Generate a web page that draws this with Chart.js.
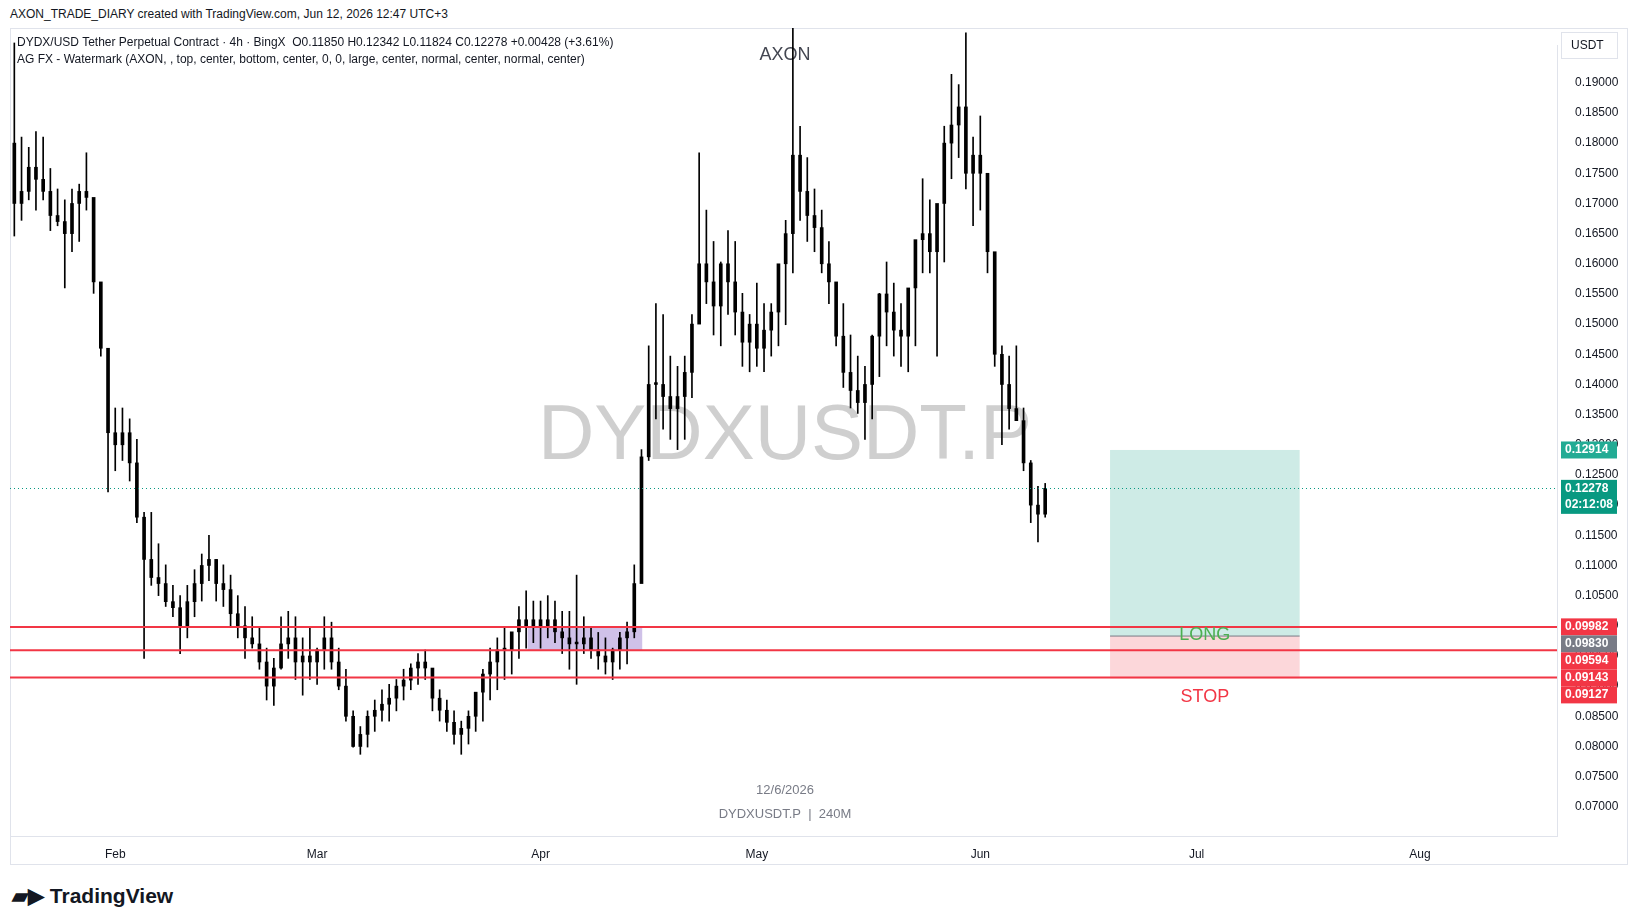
<!DOCTYPE html>
<html lang="en">
<head>
<meta charset="UTF-8" />
<title>DYDXUSDT.P</title>
<style>
  body { margin: 0; width: 1634px; height: 923px; background: #fff; font-family: "Liberation Sans", Arial, sans-serif; position: relative; overflow: hidden; }
  .top-note { position: absolute; left: 10px; top: 7px; font-size: 12px; color: #131722; }
  .frame { position: absolute; left: 10px; top: 28px; width: 1618px; height: 837px; border: 1px solid #e0e3eb; box-sizing: border-box; }
  .legend { position: absolute; left: 17px; top: 34px; font-size: 12px; color: #131722; line-height: 17px; }
  .logo { position: absolute; left: 12px; top: 884px; font: bold 21px "Liberation Sans", Arial, sans-serif; color: #131722; }
  canvas { position: absolute; left: 10px; top: 28px; }
</style>
</head>
<body>
<div class="top-note">AXON_TRADE_DIARY created with TradingView.com, Jun 12, 2026 12:47 UTC+3</div>
<div class="frame"></div>
<canvas id="chart" width="1618" height="837"></canvas>
<div class="legend">DYDX/USD Tether Perpetual Contract · 4h · BingX &nbsp;O0.11850 H0.12342 L0.11824 C0.12278 +0.00428 (+3.61%)<br>AG FX - Watermark (AXON, , top, center, bottom, center, 0, 0, large, center, normal, center, normal, center)</div>
<div class="logo">▰▶ TradingView</div>
<script src="https://cdn.jsdelivr.net/npm/chart.js@4.4.0/dist/chart.umd.min.js"></script>
<script>
// day offsets from Jan 18 2026
const highs = [0.1966,0.1810,0.1793,0.1819,0.1810,0.1758,0.1724,0.1706,0.1724,0.1732,0.1784,0.1689,0.1551,0.1447,0.1361,0.1361,0.1343,0.1309,0.1188,0.1188,
  0.1136,0.1101,0.1067,0.1050,0.1067,0.1093,0.1119,0.1150,0.1110,0.1101,0.1084,0.1050,0.1032,0.1015,0.0998,0.0963,0.0946,0.1015,0.1024,0.1015,
  0.0980,0.0998,0.0963,0.1015,0.1006,0.0963,0.0928,0.0859,0.0833,0.0859,0.0877,0.0894,0.0903,0.0911,0.0928,0.0937,0.0954,0.0960,0.0920,0.0894,
  0.0877,0.0859,0.0842,0.0859,0.0877,0.0928,0.0963,0.0980,0.0998,0.0980,0.1032,0.1058,0.1041,0.1041,0.1050,0.1041,0.1024,0.1024,0.1084,0.1015,
  0.0998,0.0989,0.0980,0.0963,0.0989,0.1006,0.1101,0.1292,0.1464,0.1534,0.1516,0.1447,0.1430,0.1447,0.1516,0.1784,0.1689,0.1637,0.1603,0.1655,
  0.1637,0.1551,0.1516,0.1568,0.1534,0.1534,0.1585,0.1672,0.1992,0.1828,0.1776,0.1724,0.1689,0.1637,0.1568,0.1534,0.1482,0.1447,0.1430,0.1482,
  0.1551,0.1603,0.1568,0.1534,0.1551,0.1620,0.1741,0.1706,0.1689,0.1828,0.1914,0.1897,0.1983,0.1810,0.1845,0.1724,0.1603,0.1464,0.1447,0.1464,
  0.1361,0.1274,0.1231,0.1236];
const lows = [0.1646,0.1672,0.1706,0.1689,0.1706,0.1655,0.1663,0.1560,0.1620,0.1637,0.1689,0.1551,0.1447,0.1222,0.1257,0.1274,0.1240,0.1171,0.0946,0.1067,
  0.1050,0.1032,0.1015,0.0954,0.0980,0.1015,0.1041,0.1075,0.1041,0.1032,0.0998,0.0980,0.0946,0.0963,0.0928,0.0877,0.0868,0.0928,0.0946,0.0911,
  0.0885,0.0911,0.0903,0.0928,0.0928,0.0894,0.0842,0.0799,0.0787,0.0799,0.0825,0.0842,0.0842,0.0859,0.0877,0.0894,0.0903,0.0911,0.0859,0.0842,
  0.0825,0.0804,0.0787,0.0804,0.0825,0.0842,0.0877,0.0894,0.0911,0.0920,0.0946,0.0963,0.0972,0.0963,0.0980,0.0972,0.0954,0.0928,0.0903,0.0954,
  0.0946,0.0928,0.0920,0.0911,0.0928,0.0937,0.0980,0.1084,0.1274,0.1343,0.1326,0.1309,0.1292,0.1309,0.1378,0.1516,0.1534,0.1482,0.1464,0.1516,
  0.1482,0.1430,0.1421,0.1430,0.1421,0.1447,0.1464,0.1499,0.1585,0.1672,0.1637,0.1620,0.1585,0.1534,0.1464,0.1395,0.1361,0.1352,0.1309,0.1343,
  0.1413,0.1464,0.1447,0.1430,0.1421,0.1464,0.1585,0.1585,0.1447,0.1603,0.1741,0.1776,0.1724,0.1663,0.1689,0.1585,0.1430,0.1300,0.1326,0.1343,
  0.1257,0.1171,0.1139,0.1180];
const closes = [0.170,0.172,0.176,0.174,0.172,0.168,0.167,0.165,0.170,0.172,0.171,0.157,0.146,0.132,0.130,0.132,0.127,0.118,0.111,0.108,
  0.107,0.104,0.103,0.100,0.104,0.107,0.110,0.111,0.107,0.106,0.102,0.100,0.098,0.097,0.094,0.090,0.093,0.097,0.098,0.094,
  0.095,0.094,0.096,0.098,0.094,0.090,0.085,0.080,0.082,0.085,0.086,0.087,0.088,0.090,0.091,0.093,0.094,0.093,0.088,0.086,
  0.084,0.082,0.083,0.085,0.089,0.092,0.094,0.096,0.096,0.099,0.101,0.100,0.101,0.100,0.101,0.099,0.098,0.097,0.097,0.098,
  0.096,0.095,0.094,0.096,0.098,0.099,0.107,0.128,0.140,0.140,0.138,0.136,0.138,0.142,0.150,0.160,0.157,0.153,0.160,0.157,
  0.152,0.147,0.150,0.146,0.149,0.152,0.160,0.165,0.178,0.172,0.168,0.166,0.160,0.157,0.148,0.142,0.139,0.137,0.140,0.148,
  0.155,0.152,0.149,0.148,0.156,0.164,0.165,0.162,0.170,0.180,0.183,0.186,0.175,0.178,0.175,0.162,0.145,0.140,0.136,0.134,
  0.127,0.120,0.1185,0.12278];
const firstOpen = 0.180;
const monthTicks = [14, 42, 73, 103, 134, 164, 195];
const monthLabels = ["Feb", "Mar", "Apr", "May", "Jun", "Jul", "Aug"];
const supportLevels = [0.09982, 0.09594, 0.09143];
const lastPrice = 0.12278;
const target = 0.12914, entry = 0.09830, stop = 0.09127;
const positionDays = [152, 178.3];
const zoneDays = [71.2, 87.1];
// stacked tags at the bottom share one column, slot = position in the stack
const axisTags = [
  { v: 0.12914, text: "0.12914", bg: "#22ab94" },
  { v: 0.12278, text: "0.12278", bg: "#089981", sub: "02:12:08" },
  { v: 0.09982, text: "0.09982", bg: "#f23645", slot: 0 },
  { v: 0.09830, text: "0.09830", bg: "#787b86", slot: 1 },
  { v: 0.09594, text: "0.09594", bg: "#f23645", slot: 2 },
  { v: 0.09143, text: "0.09143", bg: "#f23645", slot: 3 },
  { v: 0.09127, text: "0.09127", bg: "#f23645", slot: 4 }
];

const wicks = highs.map((h, i) => ({ x: i, y: [lows[i], h] }));
const bodies = closes.map((c, i) => {
  const o = i === 0 ? firstOpen : closes[i - 1];
  return { x: i, y: o === c ? [o, c + 0.0003] : [o, c] };
});

const overlay = {
  id: "overlay",
  beforeDatasetsDraw(chart) {
    const { ctx, chartArea: a, scales: { x, y } } = chart;
    ctx.save();
    ctx.font = "78px 'Liberation Sans', Arial, sans-serif";
    ctx.textAlign = "center"; ctx.textBaseline = "middle";
    ctx.fillStyle = "rgba(160,160,160,0.5)";
    ctx.fillText("DYDXUSDT.P", 775, 409);
    ctx.fillStyle = "#787b86";
    ctx.font = "13px 'Liberation Sans', Arial, sans-serif";
    ctx.fillText("12/6/2026", 775, 762);
    ctx.fillText("DYDXUSDT.P  |  240M", 775, 786);
    ctx.fillStyle = "#434651";
    ctx.font = "18px 'Liberation Sans', Arial, sans-serif";
    ctx.fillText("AXON", 775, 27);
    // purple zone
    ctx.fillStyle = "rgba(149,117,205,0.45)";
    ctx.fillRect(x.getPixelForValue(zoneDays[0]), y.getPixelForValue(supportLevels[0]),
      x.getPixelForValue(zoneDays[1]) - x.getPixelForValue(zoneDays[0]), y.getPixelForValue(supportLevels[1]) - y.getPixelForValue(supportLevels[0]));
    // position box
    const px0 = x.getPixelForValue(positionDays[0]), px1 = x.getPixelForValue(positionDays[1]);
    ctx.fillStyle = "rgba(8,153,129,0.2)";
    ctx.fillRect(px0, y.getPixelForValue(target), px1 - px0, y.getPixelForValue(entry) - y.getPixelForValue(target));
    ctx.fillStyle = "rgba(242,54,69,0.2)";
    ctx.fillRect(px0, y.getPixelForValue(entry), px1 - px0, y.getPixelForValue(stop) - y.getPixelForValue(entry));
    ctx.strokeStyle = "#787b86"; ctx.lineWidth = 1;
    ctx.beginPath(); ctx.moveTo(px0, y.getPixelForValue(entry)); ctx.lineTo(px1, y.getPixelForValue(entry)); ctx.stroke();
    ctx.restore();
  },
  afterDatasetsDraw(chart) {
    const { ctx, chartArea: a, scales: { x, y } } = chart;
    ctx.save();
    // last price dotted line
    ctx.strokeStyle = "#089981"; ctx.setLineDash([1, 3]); ctx.lineWidth = 1;
    const ly = Math.round(y.getPixelForValue(lastPrice)) + 0.5;
    ctx.beginPath(); ctx.moveTo(a.left, ly); ctx.lineTo(a.right, ly); ctx.stroke();
    ctx.setLineDash([]);
    ctx.strokeStyle = "#f23645"; ctx.lineWidth = 2;
    supportLevels.forEach(v => {
      const yy = y.getPixelForValue(v);
      ctx.beginPath(); ctx.moveTo(a.left, yy); ctx.lineTo(a.right, yy); ctx.stroke();
    });
    const cx = (x.getPixelForValue(positionDays[0]) + x.getPixelForValue(positionDays[1])) / 2;
    ctx.font = "18px 'Liberation Sans', Arial, sans-serif";
    ctx.textAlign = "center"; ctx.textBaseline = "middle";
    ctx.fillStyle = "#4caf50";
    ctx.fillText("LONG", cx, y.getPixelForValue(entry) - 1);
    ctx.fillStyle = "#f23645";
    ctx.fillText("STOP", cx, y.getPixelForValue(stop) + 19);
    ctx.restore();
  },
  afterDraw(chart) {
    const { ctx, chartArea: a, scales: { y } } = chart;
    ctx.save();
    ctx.font = "bold 12px 'Liberation Sans', Arial, sans-serif";
    ctx.textBaseline = "middle"; ctx.textAlign = "left";
    const stackTop = y.getPixelForValue(axisTags[2].v);
    axisTags.forEach(t => {
      const yy = t.slot === undefined ? y.getPixelForValue(t.v) : stackTop + t.slot * 17;
      const h = t.sub ? 34 : 17;
      const top = yy - 8.5;
      ctx.fillStyle = t.bg;
      ctx.fillRect(a.right + 4, top, 56, h);
      ctx.fillStyle = "#fff";
      ctx.fillText(t.text, a.right + 8, yy);
      if (t.sub) ctx.fillText(t.sub, a.right + 8, yy + 16);
    });
    // USDT box
    ctx.strokeStyle = "#e0e3eb";
    ctx.strokeRect(a.right + 4.5, 4.5, 56, 26);
    ctx.fillStyle = "#131722"; ctx.font = "12px 'Liberation Sans', Arial, sans-serif";
    ctx.fillText("USDT", a.right + 14, 18);
    ctx.restore();
  }
};

new Chart(document.getElementById("chart"), {
  type: "bar",
  data: {
    datasets: [
      { data: wicks, backgroundColor: "#000", barThickness: 1, grouped: false, clip: false },
      { data: bodies, backgroundColor: "#000", barThickness: 3, grouped: false, clip: false }
    ]
  },
  options: {
    responsive: false,
    animation: false,
    parsing: { xAxisKey: "x", yAxisKey: "y" },
    plugins: { legend: { display: false }, tooltip: { enabled: false } },
    scales: {
      x: {
        type: "linear", min: -0.6, max: 214, offset: false,
        afterBuildTicks: s => { s.ticks = monthTicks.map(v => ({ value: v })); },
        afterFit: s => { s.height = 29; },
        ticks: { callback: (v) => monthLabels[monthTicks.indexOf(v)], color: "#131722", font: { size: 12, family: "Liberation Sans" }, maxRotation: 0, autoSkip: false },
        grid: { display: false }, border: { display: true, color: "#e0e3eb" }
      },
      y: {
        position: "right", min: 0.06516, max: 0.19623,
        afterBuildTicks: s => {
          const t = [];
          for (let v = 0.07; v <= 0.1901; v += 0.005) t.push({ value: +v.toFixed(3) });
          s.ticks = t;
        },
        afterFit: s => { s.width = 71; },
        ticks: { callback: v => v.toFixed(5), color: "#131722", font: { size: 12, family: "Liberation Sans" }, padding: 10 },
        grid: { display: false }, border: { display: true, color: "#e0e3eb" }
      }
    }
  },
  plugins: [overlay]
});
</script>
</body>
</html>
